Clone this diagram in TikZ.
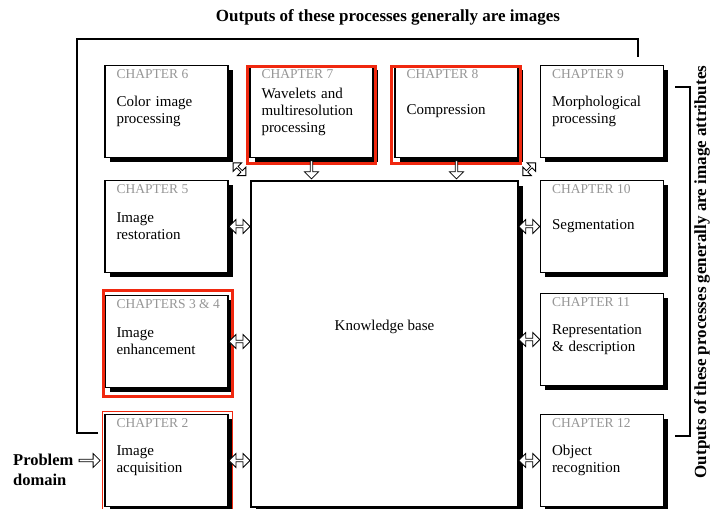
\documentclass[tikz,border=0pt]{standalone}
\usepackage{fontspec}
\setmainfont{Liberation Serif}
\usetikzlibrary{shapes.arrows, shadows, calc, positioning}

\definecolor{chapgray}{RGB}{150,150,150}
\definecolor{framered}{RGB}{240,40,15}

\begin{document}
\begin{tikzpicture}[x=1pt, y=-1pt,
    chapbox/.style={draw, line width=1.1pt, fill=white, minimum width=123pt, minimum height=92pt,
        text width=100pt, inner xsep=11.5pt, inner ysep=0pt, align=left,
        font=\fontsize{15}{17}\selectfont,
        drop shadow={shadow xshift=4.5pt, shadow yshift=-4.5pt, opacity=1, fill=black}},
    chap/.style={text=chapgray, font=\fontsize{13.5}{15}\selectfont, anchor=base west,
        inner sep=0pt, xshift=12pt, yshift=-14pt},
    redframe/.style={draw=framered, line width=3pt},
    bracket/.style={draw, line width=1.2pt},
    title/.style={font=\bfseries\fontsize{17}{20}\selectfont, inner sep=0pt},
    dblarrow/.style={double arrow, draw, line width=0.8pt, fill=white, inner sep=0pt,
        minimum width=14pt, minimum height=21pt, double arrow head extend=2pt},
    sglarrow/.style={single arrow, draw, line width=0.8pt, fill=white, inner sep=0pt,
        minimum width=14pt, minimum height=19pt, single arrow head extend=2pt}]

    \useasboundingbox (0,0) rectangle (716,509);

    % Define nodes
    \node (ch6) [chapbox, label={[chap]north west:CHAPTER 6}] at (166.5,111.5) {Color image\\processing};
    \node (ch7) [chapbox, label={[chap]north west:CHAPTER 7}] at (311.5,111.5) {Wavelets and\\multiresolution\\processing};
    \node (ch8) [chapbox, label={[chap]north west:CHAPTER 8}] at (456.5,111.5) {Compression};
    \node (ch9) [chapbox, label={[chap]north west:CHAPTER 9}] at (602,111.5) {Morphological\\processing};
    \node (ch5) [chapbox, label={[chap]north west:CHAPTER 5}] at (166.5,226.5) {Image\\restoration};
    \node (ch34) [chapbox, label={[chap]north west:CHAPTERS 3 \& 4}] at (166.5,341.5) {Image\\enhancement};
    \node (ch2) [chapbox, label={[chap]north west:CHAPTER 2}] at (166.5,460.5) {Image\\acquisition};
    \node (ch10) [chapbox, label={[chap]north west:CHAPTER 10}] at (602,226.5) {Segmentation};
    \node (ch11) [chapbox, label={[chap]north west:CHAPTER 11}] at (602,339.5) {Representation\\\& description};
    \node (ch12) [chapbox, label={[chap]north west:CHAPTER 12}] at (602,460.5) {Object\\recognition};

    \node (kb) [draw, line width=1.1pt, fill=white, minimum width=267pt, minimum height=326pt,
        drop shadow={shadow xshift=4.5pt, shadow yshift=-4.5pt, opacity=1, fill=black}] at (384.5,344) {};
    \node (kbtext) [font=\fontsize{15}{17}\selectfont] at ([yshift=17pt]kb.center) {Knowledge base};

    \node (imgtitle) [title] at (388,17) {Outputs of these processes generally are images};
    \node (attrtitle) [title, rotate=90] at (702,272) {Outputs of these processes generally are image attributes};
    \node (problem) [title, font=\bfseries\fontsize{16.5}{20}\selectfont, align=left, anchor=west] at (13,470) {Problem\\domain};

    % Red frames
    \draw[redframe] ([shift={(-1.5pt,-2pt)}]ch7.north west) rectangle ([shift={(1.5pt,-5.5pt)}]ch7.south east);
    \draw[redframe] ([shift={(-3pt,-2pt)}]ch8.north west) rectangle ([shift={(2pt,-5.5pt)}]ch8.south east);
    \draw[redframe] ([shift={(-1pt,4pt)}]ch34.north west) rectangle ([shift={(3.5pt,-8pt)}]ch34.south east);
    \draw[draw=framered, line width=1pt] ([shift={(-2pt,2pt)}]ch2.north west) rectangle ([shift={(3.5pt,-2.5pt)}]ch2.south east);

    % Draw arrows
    \node (a5) [dblarrow] at ($(ch5.east)!0.5!(kb.west |- ch5.east)$) {};
    \node (a34) [dblarrow] at ($(ch34.east)!0.5!(kb.west |- ch34.east)$) {};
    \node (a2) [dblarrow] at ($(ch2.east)!0.5!(kb.west |- ch2.east)$) {};
    \node (a10) [dblarrow] at ($(kb.east |- ch10.west)!0.5!(ch10.west)$) {};
    \node (a11) [dblarrow] at ($(kb.east |- ch11.west)!0.5!(ch11.west)$) {};
    \node (a12) [dblarrow] at ($(kb.east |- ch12.west)!0.5!(ch12.west)$) {};
    \node (a7) [sglarrow, minimum height=18pt, shape border rotate=270] at ($(ch7.south)!0.5!(ch7.south |- kb.north)$) {};
    \node (a8) [sglarrow, minimum height=18pt, shape border rotate=270] at ($(ch8.south)!0.5!(ch8.south |- kb.north)$) {};
    \node (a6) [dblarrow, minimum height=18pt, minimum width=12pt, double arrow head extend=2pt, rotate=-45] at ($(ch6.south east)!0.5!(kb.north west)$) {};
    \node (a9) [dblarrow, minimum height=18pt, minimum width=12pt, double arrow head extend=2pt, rotate=45] at ($(ch9.south west)!0.5!(kb.north east)$) {};
    \node (pa) [sglarrow, minimum height=21pt] at ($(problem.east |- ch2.west)!0.5!(ch2.west)$) {};

    % Brackets
    \coordinate (imgstart) at (98,433);
    \coordinate (imgend) at (638,57);
    \draw[bracket] (imgstart) -| (77,39) -| (imgend);
    \coordinate (attrtop) at (675,87);
    \coordinate (attrbot) at (675,436);
    \draw[bracket] (attrtop) -| (690,436) -- (attrbot);

\end{tikzpicture}
\end{document}
